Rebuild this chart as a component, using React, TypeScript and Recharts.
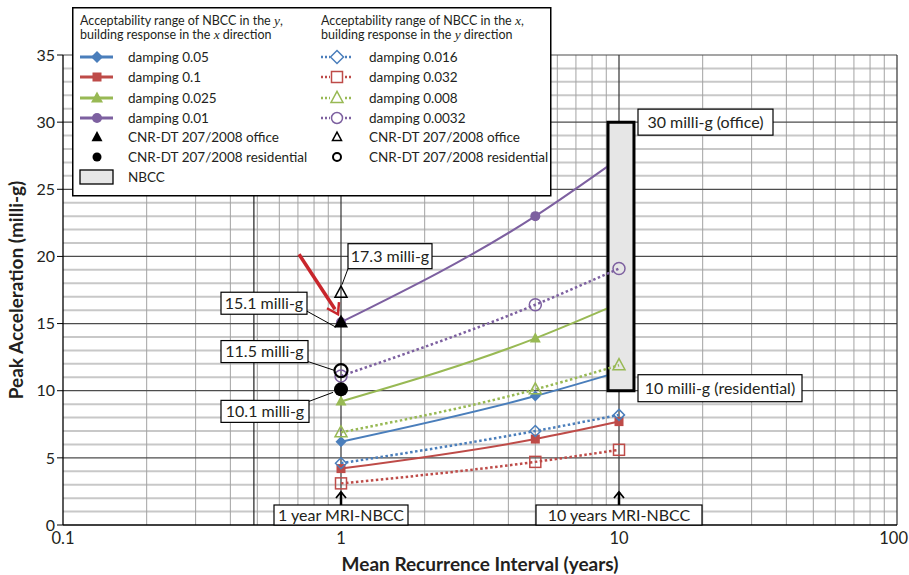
import React from 'react';
import { ComposedChart, Line, XAxis, YAxis, ReferenceArea, ReferenceLine, ReferenceDot } from 'recharts';

document.body.style.margin = '0';

// mean recurrence interval (years)
const mri = [1, 5, 10];

// NBCC in y, building response in x direction (solid)
const damping005 = [6.2, 9.6, 11.4];
const damping01 = [4.2, 6.4, 7.7];
const damping0025 = [9.2, 13.9, 16.5];
const damping001 = [15.1, 23.0, 27.3];

// NBCC in x, building response in y direction (dotted)
const damping0016 = [4.6, 7.0, 8.2];
const damping0032 = [3.1, 4.7, 5.6];
const damping0008 = [6.9, 10.1, 11.9];
const damping00032 = [11.1, 16.4, 19.1];

// CNR-DT 207/2008 limits at 1 year
const cnrOfficeX = [{ x: 1, y: 15.1 }];
const cnrResidentialX = [{ x: 1, y: 10.1 }];
const cnrOfficeY = [{ x: 1, y: 17.3 }];
const cnrResidentialY = [{ x: 1, y: 11.5 }];

// NBCC acceptability range
const nbccLow = 10;
const nbccHigh = 30;
const nbccFrom = 9.13;
const nbccTo = 11.32;

const xTicks = [0.1, 1, 10, 100];
const yTicks = [0, 5, 10, 15, 20, 25, 30, 35];

const BLUE = '#4a7ebb';
const RED = '#be4b48';
const GREEN = '#98b954';
const PURPLE = '#7d60a0';
const INK = '#231f20';
const FONT = 'Lato, "Open Sans", sans-serif';

const data = mri.map((x, i) => ({
  x,
  d005: damping005[i],
  d01: damping01[i],
  d0025: damping0025[i],
  d001: damping001[i],
  d0016: damping0016[i],
  d0032: damping0032[i],
  d0008: damping0008[i],
  d00032: damping00032[i],
}));

const minorX = [0.1, 1, 10].flatMap((d) => [2, 3, 4, 5, 6, 7, 8, 9].map((k) => +(d * k).toPrecision(3)));
const majorX = [1, 10, 100];
const minorY = Array.from({ length: 35 }, (_, i) => i).filter((v) => v % 5 !== 0);
const majorY = [5, 10, 15, 20, 25, 30, 35];

type Shape = 'diamond' | 'square' | 'triangle' | 'circle';

const Marker = ({ cx, cy, shape, color, hollow, s }: { cx: number; cy: number; shape: Shape; color: string; hollow?: boolean; s: number }) => {
  const fill = hollow ? 'none' : color;
  const sw = hollow ? 1.5 : 0;
  if (shape === 'diamond')
    return <polygon points={`${cx},${cy - s} ${cx + s},${cy} ${cx},${cy + s} ${cx - s},${cy}`} fill={fill} stroke={color} strokeWidth={sw} />;
  if (shape === 'square')
    return <rect x={cx - s} y={cy - s} width={s * 2} height={s * 2} fill={fill} stroke={color} strokeWidth={sw} />;
  if (shape === 'triangle')
    return <polygon points={`${cx},${cy - s * 1.1} ${cx + s},${cy + s * 0.75} ${cx - s},${cy + s * 0.75}`} fill={fill} stroke={color} strokeWidth={sw} />;
  return <circle cx={cx} cy={cy} r={s} fill={fill} stroke={color} strokeWidth={sw} />;
};

// solid-series markers that sit behind the NBCC box are not visible
const behindBox = (p: any) =>
  !!p.payload && p.payload.x >= nbccFrom && p.payload.x <= nbccTo && p.value >= nbccLow && p.value <= nbccHigh;

const dot = (shape: Shape, color: string, hollow: boolean, s: number, hideInBox = false) => (p: any) =>
  p.cx == null || (hideInBox && behindBox(p)) ? (
    <g key={p.index} />
  ) : (
    <g key={p.index}><Marker cx={p.cx} cy={p.cy} shape={shape} color={color} hollow={hollow} s={s} /></g>
  );

const Box = ({ x, y, w, h, text, size = 16 }: { x: number; y: number; w: number; h: number; text: string; size?: number }) => (
  <g>
    <rect x={x} y={y} width={w} height={h} fill="#fff" stroke="#000" strokeWidth={1.2} />
    <text x={x + w / 2} y={y + h / 2 + size * 0.36} textAnchor="middle" fontSize={size} fontFamily={FONT} fill={INK}>{text}</text>
  </g>
);

const callout = (dx: number, dy: number, w: number, h: number, text: string, l: number[]) => (p: any) => (
  <g>
    <line x1={p.cx + l[0]} y1={p.cy + l[1]} x2={p.cx + l[2]} y2={p.cy + l[3]} stroke="#000" strokeWidth={1} />
    <Box x={p.cx + dx} y={p.cy + dy} w={w} h={h} text={text} />
  </g>
);

const mriNote = (halfW: number, text: string) => (p: any) => (
  <g>
    <line x1={p.cx} y1={p.cy - 20} x2={p.cx} y2={p.cy - 33} stroke="#000" strokeWidth={2.5} />
    <polyline points={`${p.cx - 5},${p.cy - 27} ${p.cx},${p.cy - 33} ${p.cx + 5},${p.cy - 27}`} fill="none" stroke="#000" strokeWidth={1.8} />
    <Box x={p.cx - halfW} y={p.cy - 20} w={halfW * 2} h={20} text={text} />
  </g>
);

const redArrow = (p: any) => {
  const x1 = p.cx - 42, y1 = p.cy - 68, x2 = p.cx - 3, y2 = p.cy - 8;
  return (
    <g>
      <line x1={x1} y1={y1} x2={x2 - 3} y2={y2 - 5} stroke="#c8262c" strokeWidth={3.5} />
      <polyline points={`${x2 - 11},${y2 - 6} ${x2},${y2} ${x2 + 1},${y2 - 12}`} fill="none" stroke="#c8262c" strokeWidth={2.5} />
    </g>
  );
};

// last label sits against the right edge, so it is nudged inward
const XTick = (p: any) => {
  const last = p.payload.value === xTicks[xTicks.length - 1];
  return (
    <text x={p.x} y={p.y + 7} textAnchor={last ? 'end' : 'middle'} dx={last ? 11 : 0} fontSize={16.5} fontFamily={FONT} fill={INK}>
      {p.payload.value}
    </text>
  );
};

const Legend = () => {
  const rows = [57, 77, 98, 118, 137, 157, 177].map((v) => v - 7);
  const left = [
    { name: 'damping 0.05', color: BLUE, shape: 'diamond' as Shape, s: 6 },
    { name: 'damping 0.1', color: RED, shape: 'square' as Shape, s: 4.5 },
    { name: 'damping 0.025', color: GREEN, shape: 'triangle' as Shape, s: 6 },
    { name: 'damping 0.01', color: PURPLE, shape: 'circle' as Shape, s: 5 },
  ];
  const right = [
    { name: 'damping 0.016', color: BLUE, shape: 'diamond' as Shape, s: 6.5 },
    { name: 'damping 0.032', color: RED, shape: 'square' as Shape, s: 5.5 },
    { name: 'damping 0.008', color: GREEN, shape: 'triangle' as Shape, s: 6 },
    { name: 'damping 0.0032', color: PURPLE, shape: 'circle' as Shape, s: 5.5 },
  ];
  const txt = { fontSize: 13.5, fontFamily: FONT, fill: INK };
  const head = { fontSize: 12.5, fontFamily: FONT, fill: INK };
  const it = { fontFamily: '"Liberation Serif", serif', fontStyle: 'italic' as const, fontSize: 13.5 };
  return (
    <svg width={480} height={190} style={{ position: 'absolute', left: 72, top: 7 }}>
      <rect x={0.75} y={0.75} width={478} height={188} fill="#fff" stroke="#000" strokeWidth={1.5} />
      <text x={8} y={18} {...head}>Acceptability range of NBCC in the <tspan {...it}>y</tspan>,</text>
      <text x={8} y={32} {...head}>building response in the <tspan {...it}>x</tspan> direction</text>
      <text x={249} y={18} {...head}>Acceptability range of NBCC in the <tspan {...it}>x</tspan>,</text>
      <text x={249} y={32} {...head}>building response in the <tspan {...it}>y</tspan> direction</text>
      {left.map((r, i) => (
        <g key={r.name}>
          <line x1={8} y1={rows[i]} x2={41} y2={rows[i]} stroke={r.color} strokeWidth={3} />
          <Marker cx={25} cy={rows[i]} shape={r.shape} color={r.color} s={r.s} />
          <text x={56} y={rows[i] + 5} {...txt}>{r.name}</text>
        </g>
      ))}
      {right.map((r, i) => (
        <g key={r.name}>
          <line x1={249} y1={rows[i]} x2={281} y2={rows[i]} stroke={r.color} strokeWidth={2.5} strokeDasharray="2 2" />
          <rect x={258} y={rows[i] - 8} width={14} height={16} fill="#fff" />
          <Marker cx={265} cy={rows[i]} shape={r.shape} color={r.color} hollow s={r.s} />
          <text x={297} y={rows[i] + 5} {...txt}>{r.name}</text>
        </g>
      ))}
      <Marker cx={25} cy={rows[4]} shape="triangle" color="#000" s={5.5} />
      <text x={56} y={rows[4] + 5} {...txt}>CNR-DT 207/2008 office</text>
      <Marker cx={25} cy={rows[5]} shape="circle" color="#000" s={4.5} />
      <text x={56} y={rows[5] + 5} {...txt}>CNR-DT 207/2008 residential</text>
      <Marker cx={265} cy={rows[4]} shape="triangle" color="#000" hollow s={4.5} />
      <text x={297} y={rows[4] + 5} {...txt}>CNR-DT 207/2008 office</text>
      <circle cx={265} cy={rows[5]} r={4} fill="none" stroke="#000" strokeWidth={2} />
      <text x={297} y={rows[5] + 5} {...txt}>CNR-DT 207/2008 residential</text>
      <rect x={8} y={rows[6] - 7} width={33} height={14} fill="#e6e6e6" stroke="#000" strokeWidth={1.3} />
      <text x={56} y={rows[6] + 5} {...txt}>NBCC</text>
    </svg>
  );
};

const App = () => {
  const tick = { fontSize: 16, fontFamily: FONT, fill: INK };
  const title = { fontSize: 19, fontWeight: 700, fontFamily: FONT, fill: INK };
  return (
    <div style={{ position: 'relative', width: 909, height: 575, background: '#fff' }}>
      <ComposedChart width={909} height={575} data={data} margin={{ top: 55, right: 12, bottom: 0, left: 0 }}>
        {minorY.map((v) => (
          <ReferenceLine key={`my${v}`} y={v} stroke="#c8c8c8" strokeWidth={2} zIndex={-100} />
        ))}
        {minorX.map((v) => (
          <ReferenceLine key={`mx${v}`} x={v} stroke="#a3a3a3" strokeWidth={1} zIndex={-90} />
        ))}
        {majorY.map((v) => (
          <ReferenceLine key={`My${v}`} y={v} stroke="#4d4d4d" strokeWidth={1.2} zIndex={-80} />
        ))}
        {majorX.map((v) => (
          <ReferenceLine key={`Mx${v}`} x={v} stroke="#333" strokeWidth={1.2} zIndex={-80} />
        ))}
        <ReferenceLine x={0.486} stroke="#222" strokeWidth={1.2} zIndex={-80} />
        <XAxis
          dataKey="x"
          type="number"
          scale="log"
          domain={[0.1, 100]}
          ticks={xTicks}
          allowDataOverflow
          height={50}
          tick={XTick}
          tickLine={false}
          tickMargin={6}
          axisLine={{ stroke: '#000', strokeWidth: 1.3 }}
          label={{ value: 'Mean Recurrence Interval (years)', position: 'insideBottom', offset: 4, style: title }}
        />
        <YAxis
          type="number"
          domain={[0, 35]}
          ticks={yTicks}
          width={63}
          tick={tick}
          tickSize={6}
          axisLine={{ stroke: '#000', strokeWidth: 1.3 }}
          tickLine={{ stroke: '#000' }}
          label={{ value: 'Peak Acceleration (milli-g)', angle: -90, position: 'insideLeft', offset: 16, style: { ...title, textAnchor: 'middle' } }}
        />

        <Line dataKey="d001" type="monotone" stroke={PURPLE} strokeWidth={2} dot={dot('circle', PURPLE, false, 5, true)} activeDot={false} isAnimationActive={false} zIndex={400} />
        <Line dataKey="d0025" type="monotone" stroke={GREEN} strokeWidth={2} dot={dot('triangle', GREEN, false, 5.5, true)} activeDot={false} isAnimationActive={false} zIndex={400} />
        <Line dataKey="d005" type="monotone" stroke={BLUE} strokeWidth={2} dot={dot('diamond', BLUE, false, 5.5, true)} activeDot={false} isAnimationActive={false} zIndex={400} />
        <Line dataKey="d01" type="monotone" stroke={RED} strokeWidth={2} dot={dot('square', RED, false, 4.5, true)} activeDot={false} isAnimationActive={false} zIndex={400} />

        <ReferenceArea x1={nbccFrom} x2={nbccTo} y1={nbccLow} y2={nbccHigh} fill="#e6e6e6" fillOpacity={1} stroke="#000" strokeWidth={3} ifOverflow="visible" zIndex={450} />

        <Line dataKey="d00032" type="monotone" stroke={PURPLE} strokeWidth={2.5} strokeDasharray="2.5 2.5" dot={dot('circle', PURPLE, true, 6)} activeDot={false} isAnimationActive={false} zIndex={500} />
        <Line dataKey="d0008" type="monotone" stroke={GREEN} strokeWidth={2.5} strokeDasharray="2.5 2.5" dot={dot('triangle', GREEN, true, 6)} activeDot={false} isAnimationActive={false} zIndex={500} />
        <Line dataKey="d0016" type="monotone" stroke={BLUE} strokeWidth={2.5} strokeDasharray="2.5 2.5" dot={dot('diamond', BLUE, true, 5.5)} activeDot={false} isAnimationActive={false} zIndex={500} />
        <Line dataKey="d0032" type="monotone" stroke={RED} strokeWidth={2.5} strokeDasharray="2.5 2.5" dot={dot('square', RED, true, 5.5)} activeDot={false} isAnimationActive={false} zIndex={500} />

        <Line data={cnrOfficeY} dataKey="y" stroke="none" dot={dot('triangle', '#000', true, 6)} activeDot={false} isAnimationActive={false} zIndex={600} />
        <Line data={cnrResidentialY} dataKey="y" stroke="none" dot={(p: any) => <circle key="cr" cx={p.cx} cy={p.cy} r={6.5} fill="none" stroke="#000" strokeWidth={2.2} />} activeDot={false} isAnimationActive={false} zIndex={600} />
        <Line data={cnrOfficeX} dataKey="y" stroke="none" dot={dot('triangle', '#000', false, 7)} activeDot={false} isAnimationActive={false} zIndex={600} />
        <Line data={cnrResidentialX} dataKey="y" stroke="none" dot={dot('circle', '#000', false, 7)} activeDot={false} isAnimationActive={false} zIndex={600} />

        <ReferenceDot x={1} y={17.3} r={0} zIndex={700} shape={callout(7, -49, 84, 25, '17.3 milli-g', [7, -24, 1, -8])} />
        <ReferenceDot x={1} y={15.1} r={0} zIndex={700} shape={callout(-120, -30, 86, 22, '15.1 milli-g', [-34, -11, -5, 5])} />
        <ReferenceDot x={1} y={11.5} r={0} zIndex={700} shape={callout(-120, -30, 87, 22, '11.5 milli-g', [-33, -9, -6, 0])} />
        <ReferenceDot x={1} y={10.1} r={0} zIndex={700} shape={callout(-120, 11, 88, 22, '10.1 milli-g', [-32, 12, -8, 3])} />
        <ReferenceDot x={10} y={30} r={0} zIndex={700} shape={callout(19, -13, 135, 26, '30 milli-g (office)', [0, 0, 0, 0])} />
        <ReferenceDot x={10} y={10} r={0} zIndex={700} shape={callout(19, -16, 164, 27, '10 milli-g (residential)', [0, 0, 0, 0])} />
        <ReferenceDot x={1} y={0} r={0} zIndex={700} shape={mriNote(67, '1 year MRI-NBCC')} />
        <ReferenceDot x={10} y={0} r={0} zIndex={700} shape={mriNote(83, '10 years MRI-NBCC')} />
        <ReferenceDot x={1} y={15.1} r={0} zIndex={700} shape={redArrow} />
      </ComposedChart>
      <Legend />
    </div>
  );
};

export default App;
